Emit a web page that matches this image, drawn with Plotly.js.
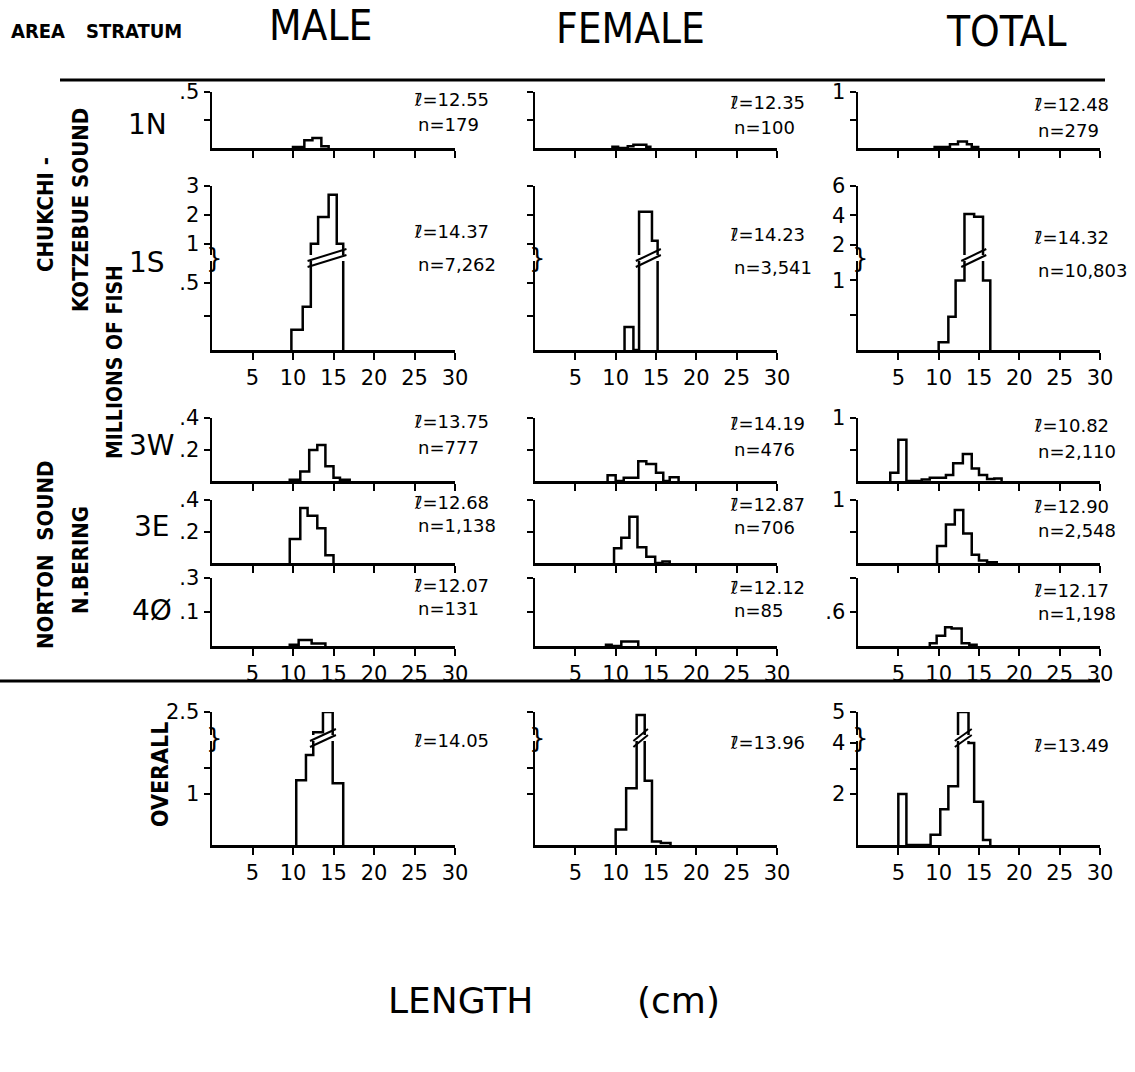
<!DOCTYPE html>
<html>
<head>
<meta charset="utf-8">
<script src="https://cdn.plot.ly/plotly-3.0.1.min.js"></script>
<style>html,body{margin:0;padding:0;background:#fff;}#chart{width:1135px;height:1072px;}</style>
</head>
<body>
<div id="chart"></div>
<script>
// ---------------- DATA (length in cm, abundance in millions of fish) ----------------
const xTicks = [5, 10, 15, 20, 25, 30];
const strata = ['1N', '1S', '3W', '3E', '4Ø'];
const sexes = ['MALE', 'FEMALE', 'TOTAL'];

// MALE
const male1N_edges = [10.0, 11.4, 12.4, 13.5, 14.4];
const male1N_vals  = [0.01, 0.07, 0.09, 0.015];
const male1S_edges = [9.8, 11.2, 12.2, 13.1, 14.4, 15.4, 16.2];
const male1S_vals  = [0.15, 0.32, 1.0, 1.93, 2.7, 1.0];
const male3W_edges = [9.6, 10.9, 12.0, 13.0, 14.0, 15.0, 15.8, 17.0];
const male3W_vals  = [0.008, 0.06, 0.197, 0.228, 0.093, 0.02, 0.008];
const male3E_edges = [9.6, 10.9, 11.8, 13.0, 14.0, 15.0];
const male3E_vals  = [0.153, 0.35, 0.30, 0.22, 0.05];
const male40_edges = [9.6, 10.7, 12.3, 14.0];
const male40_vals  = [0.004, 0.018, 0.007];
const maleOV_edges = [10.4, 11.6, 12.5, 13.7, 14.9, 16.2];
const maleOV_vals  = [1.26, 1.75, 2.15, 2.5, 1.2];

// FEMALE
const female1N_edges = [9.6, 10.3, 11.5, 12.2, 13.8, 14.3];
const female1N_vals  = [0.012, 0, 0.015, 0.03, 0.012];
const female1S_edges = [11.1, 12.2, 12.9, 14.5, 15.2];
const female1S_vals  = [0.17, 0, 2.11, 1.1];
const female3W_edges = [9.0, 10.0, 11.0, 12.8, 13.8, 15.0, 15.9, 16.7, 17.8];
const female3W_vals  = [0.037, 0, 0.02, 0.126, 0.108, 0.053, 0, 0.024];
const female3E_edges = [9.8, 10.7, 11.7, 12.7, 13.8, 14.9, 15.8, 16.7];
const female3E_vals  = [0.094, 0.16, 0.293, 0.1, 0.04, 0, 0.01];
const female40_edges = [8.8, 9.5, 10.7, 12.8];
const female40_vals  = [0.004, 0, 0.013];
const femaleOV_edges = [10.0, 11.3, 12.6, 13.6, 14.5, 15.6, 16.8];
const femaleOV_vals  = [0.3, 1.1, 2.45, 1.25, 0.07, 0.04];

// TOTAL
const total1N_edges = [9.5, 11.4, 12.4, 13.5, 14.1, 14.9];
const total1N_vals  = [0.017, 0.067, 0.117, 0.067, 0.017];
const total1S_edges = [10.0, 11.2, 12.1, 13.2, 14.4, 15.5, 16.4];
const total1S_vals  = [0.11, 0.48, 1.0, 4.1, 3.9, 1.0];
const total3W_edges = [4.0, 5.0, 6.0, 7.9, 8.9, 10.9, 11.8, 13.0, 14.1, 15.0, 16.0, 16.9, 17.8];
const total3W_vals  = [0.13, 0.655, 0, 0.025, 0.053, 0.095, 0.28, 0.43, 0.2, 0.095, 0.033, 0.04];
const total3E_edges = [9.8, 10.9, 12.0, 13.05, 14.1, 15.0, 16.0, 17.2];
const total3E_vals  = [0.27, 0.61, 0.84, 0.47, 0.13, 0.04, 0.01];
const total40_edges = [8.9, 9.75, 10.8, 11.6, 12.85, 13.8, 14.7];
const total40_vals  = [0.05, 0.18, 0.33, 0.31, 0.05, 0.02];
const totalOV_edges = [5.0, 6.0, 9.0, 10.2, 11.2, 12.4, 13.7, 14.4, 15.5, 16.4];
const totalOV_vals  = [2.0, 0, 0.4, 1.4, 2.3, 5.0, 4.0, 1.7, 0.2];

// Mean length and sample size per stratum (rows 1N,1S,3W,3E,4Ø, then overall)
const meanMale   = ['12.55', '14.37', '13.75', '12.68', '12.07', '14.05'];
const nMale      = ['179', '7,262', '777', '1,138', '131'];
const meanFemale = ['12.35', '14.23', '14.19', '12.87', '12.12', '13.96'];
const nFemale    = ['100', '3,541', '476', '706', '85'];
const meanTotal  = ['12.48', '14.32', '10.82', '12.90', '12.17', '13.49'];
const nTotal     = ['279', '10,803', '2,110', '2,548', '1,198'];

// ---------------- LAYOUT ----------------
const W = 1135, H = 1072;
const fx = p => p / W, fy = p => 1 - p / H;
const FONT = 'DejaVu Sans, Arial, sans-serif';
const CFONT = "'DejaVu Sans Condensed', 'Liberation Sans Narrow', 'DejaVu Sans', sans-serif";
const COLX = {M: [212, 455], F: [535, 777], T: [858, 1100]};
const ROWY = {
  '1N': {top: 92, base: 148},
  '1S': {top: 186, base: 350, brk: 258},
  '3W': {top: 418, base: 481},
  '3E': {top: 500, base: 563},
  '40': {top: 578, base: 646},
  'OV': {top: 712, base: 845, brk: 738}
};
const GAP = 3, LW = 2.5;
const tickFont = {family: FONT, size: 21, color: '#000'};

const layout = {
  width: W, height: H, margin: {l: 0, r: 0, t: 0, b: 0},
  showlegend: false, paper_bgcolor: '#fff', plot_bgcolor: 'rgba(0,0,0,0)',
  annotations: [], shapes: []
};
const data = [];
let nAx = 0;

function addSubplot(col, yTop, yBot, spec, xVisible, xLabels, yLabels, edges, vals) {
  nAx++;
  const s = nAx === 1 ? '' : String(nAx);
  layout['xaxis' + s] = {
    domain: [fx(COLX[col][0]), fx(COLX[col][1])], range: [0, 30], anchor: 'y' + s,
    visible: xVisible, showline: true, linecolor: '#000', linewidth: LW,
    ticks: 'outside', ticklen: 7, tickwidth: 2, tickcolor: '#000',
    tickmode: 'array', tickvals: xTicks, ticktext: xTicks.map(String),
    showticklabels: xLabels, tickfont: tickFont, showgrid: false, zeroline: false, fixedrange: true
  };
  layout['yaxis' + s] = {
    domain: [fy(yBot), fy(yTop)], range: spec.range, anchor: 'x' + s,
    showline: true, linecolor: '#000', linewidth: LW,
    ticks: 'outside', ticklen: 6, tickwidth: 2, tickcolor: '#000',
    tickmode: 'array', tickvals: spec.tv, ticktext: spec.tt,
    showticklabels: yLabels, tickfont: tickFont, showgrid: false, zeroline: false, fixedrange: true
  };
  data.push({
    type: 'scatter', mode: 'lines',
    x: [edges[0]].concat(edges), y: [0].concat(vals, [0]),
    line: {shape: 'hv', color: '#000', width: LW},
    xaxis: 'x' + s, yaxis: 'y' + s, hoverinfo: 'skip'
  });
  return s;
}

function addPanel(col, row, spec, edges, vals, xLabels, yLabels) {
  const g = ROWY[row];
  if (spec.lower) {
    const s = addSubplot(col, g.brk + GAP, g.base, spec.lower, true, xLabels, yLabels, edges, vals);
    addSubplot(col, g.top, g.brk - GAP, spec.upper, false, false, yLabels, edges, vals);
    layout.annotations.push({xref: 'paper', yref: 'paper', x: fx(COLX[col][0] + 2), y: fy(g.brk),
      text: '}', showarrow: false, font: {family: FONT, size: 26, color: '#000'}, xanchor: 'center', yanchor: 'middle'});
    // break marks across the bars that exceed the lower scale
    const lowMax = spec.lower.range[1];
    let i0 = -1, i1 = -1;
    vals.forEach((v, i) => { if (v > lowMax) { if (i0 < 0) i0 = i; i1 = i; } });
    if (i0 >= 0) {
      [-3, 3].forEach(d => layout.shapes.push({
        type: 'line', xref: 'x' + s, yref: 'paper',
        x0: edges[i0] - 0.4, x1: edges[i1 + 1] + 0.4,
        y0: fy(g.brk + 6 + d), y1: fy(g.brk - 6 + d),
        line: {color: '#000', width: 2}
      }));
    }
  } else {
    addSubplot(col, g.top, g.base, spec, true, xLabels, yLabels, edges, vals);
  }
}

// y-axis specs
const Y = {
  n1N_MF: {range: [0, 0.5001], tv: [0.25, 0.5], tt: ['', '.5']},
  n1N_T:  {range: [0, 1.0001], tv: [0.5, 1], tt: ['', '1']},
  s1S_MF: {lower: {range: [0, 0.66], tv: [0.25, 0.5], tt: ['', '.5']},
           upper: {range: [0.61, 3.0001], tv: [1, 2, 3], tt: ['1', '2', '3']}},
  s1S_T:  {lower: {range: [0, 1.28], tv: [0.5, 1], tt: ['', '1']},
           upper: {range: [1.3, 6.0001], tv: [2, 4, 6], tt: ['2', '4', '6']}},
  w_MF:   {range: [0, 0.4001], tv: [0.2, 0.4], tt: ['.2', '.4']},
  w_T:    {range: [0, 1.0001], tv: [0.5, 1], tt: ['', '1']},
  o_MF:   {range: [0, 0.2001], tv: [0.1, 0.2], tt: ['.1', '.3']},
  o_T:    {range: [0, 1.2001], tv: [0.6, 1.2], tt: ['.6', '']},
  ov_MF:  {lower: {range: [0, 2.02], tv: [1, 1.5], tt: ['1', '']},
           upper: {range: [2.1, 2.5001], tv: [2.5], tt: ['2.5']}},
  ov_T:   {lower: {range: [0, 4.08], tv: [2, 3, 4], tt: ['2', '', '4']},
           upper: {range: [4.5, 5.0001], tv: [5], tt: ['5']}}
};

// Row 1N
addPanel('M', '1N', Y.n1N_MF, male1N_edges, male1N_vals, false, true);
addPanel('F', '1N', Y.n1N_MF, female1N_edges, female1N_vals, false, false);
addPanel('T', '1N', Y.n1N_T, total1N_edges, total1N_vals, false, true);
// Row 1S
addPanel('M', '1S', Y.s1S_MF, male1S_edges, male1S_vals, true, true);
addPanel('F', '1S', Y.s1S_MF, female1S_edges, female1S_vals, true, false);
addPanel('T', '1S', Y.s1S_T, total1S_edges, total1S_vals, true, true);
// Row 3W
addPanel('M', '3W', Y.w_MF, male3W_edges, male3W_vals, false, true);
addPanel('F', '3W', Y.w_MF, female3W_edges, female3W_vals, false, false);
addPanel('T', '3W', Y.w_T, total3W_edges, total3W_vals, false, true);
// Row 3E
addPanel('M', '3E', Y.w_MF, male3E_edges, male3E_vals, false, true);
addPanel('F', '3E', Y.w_MF, female3E_edges, female3E_vals, false, false);
addPanel('T', '3E', Y.w_T, total3E_edges, total3E_vals, false, true);
// Row 4Ø
addPanel('M', '40', Y.o_MF, male40_edges, male40_vals, true, true);
addPanel('F', '40', Y.o_MF, female40_edges, female40_vals, true, false);
addPanel('T', '40', Y.o_T, total40_edges, total40_vals, true, true);
// Overall
addPanel('M', 'OV', Y.ov_MF, maleOV_edges, maleOV_vals, true, true);
addPanel('F', 'OV', Y.ov_MF, femaleOV_edges, femaleOV_vals, true, false);
addPanel('T', 'OV', Y.ov_T, totalOV_edges, totalOV_vals, true, true);

// ---------------- TEXT ----------------
function ann(text, x, y, size, opts) {
  layout.annotations.push(Object.assign({
    xref: 'paper', yref: 'paper', x: fx(x), y: fy(y), text: text, showarrow: false,
    font: {family: FONT, size: size, color: '#000'}, xanchor: 'center', yanchor: 'middle'
  }, opts || {}));
}
const cf = s => ({font: {family: CFONT, size: s, color: '#000'}});
// header
ann('<b>AREA</b>', 38, 31, 20, cf(20));
ann('<b>STRATUM</b>', 134, 31, 20, cf(20));
ann(sexes[0], 320, 26, 42, cf(42));
ann(sexes[1], 630, 28, 42, cf(42));
ann(sexes[2], 1006, 32, 42, cf(42));

// left side labels (rotated)
const rot = s => Object.assign(cf(s), {textangle: -90});
ann('<b>CHUKCHI -</b>', 45, 215, 22, rot(22));
ann('<b>KOTZEBUE SOUND</b>', 80, 210, 22, rot(22));
ann('<b>MILLIONS OF FISH</b>', 115, 362, 21, rot(21));
ann('<b>NORTON  SOUND</b>', 45, 555, 22, rot(22));
ann('<b>N.BERING</b>', 80, 560, 22, rot(22));
ann('<b>OVERALL</b>', 160, 775, 23, rot(23));

// stratum labels
const stratY = [125, 262, 445, 526, 610];
strata.forEach((s, i) => ann(s, i < 2 ? 147 : 152, stratY[i], 28));

// statistics
const statX = {M: 412, F: 728, T: 1032};
const baseStatY = [[100, 125], [232, 265], [421, 447], [502, 525], [585, 608], [740]];
const colOff = {M: 0, F: 2, T: 5};
const stats = {M: [meanMale, nMale], F: [meanFemale, nFemale], T: [meanTotal, nTotal]};
['M', 'F', 'T'].forEach(c => {
  stats[c][0].forEach((m, i) => {
    ann('ℓ̄=' + m, statX[c], baseStatY[i][0] + colOff[c], 18, {xanchor: 'left'});
    if (i < 5) ann('n=' + stats[c][1][i], statX[c] + 4, baseStatY[i][1] + colOff[c], 18, {xanchor: 'left'});
  });
});

// axis label
ann('LENGTH', 460, 1000, 36);
ann('(cm)', 678, 1000, 36);

// rules
layout.shapes.push({type: 'line', xref: 'paper', yref: 'paper', x0: fx(60), x1: fx(1105), y0: fy(80), y1: fy(80), line: {color: '#000', width: 3}});
layout.shapes.push({type: 'line', xref: 'paper', yref: 'paper', x0: fx(0), x1: fx(1100), y0: fy(681), y1: fy(681), line: {color: '#000', width: 3}});

Plotly.newPlot('chart', data, layout, {staticPlot: true, displayModeBar: false});
</script>
</body>
</html>
